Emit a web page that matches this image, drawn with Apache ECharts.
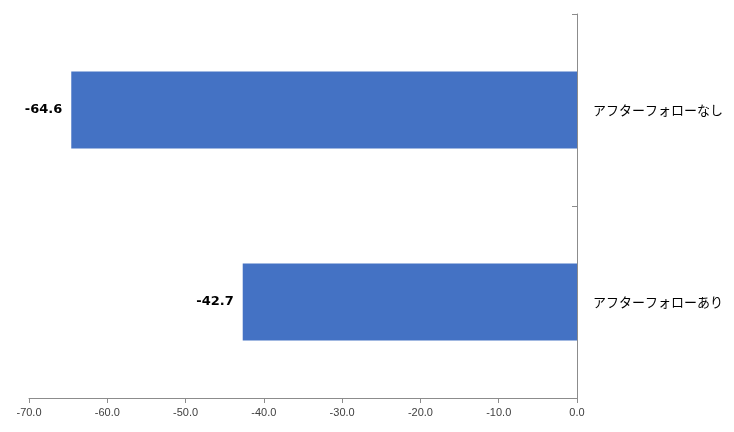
<!DOCTYPE html>
<html><head><meta charset="utf-8">
<script src="https://cdn.jsdelivr.net/npm/echarts@6/dist/echarts.min.js"></script>
<style>html,body{margin:0;padding:0;background:#fff}#c{width:734px;height:432px}</style>
</head><body><div id="c"></div>
<script>
const categories = ['アフターフォローなし', 'アフターフォローあり'];
const values = [-64.6, -42.7];
const xMin = -70, xMax = 0, xStep = 10;

const chart = echarts.init(document.getElementById('c'), null, {renderer: 'canvas'});
chart.setOption({
  animation: false,
  backgroundColor: '#fff',
  grid: {left: 29, right: 157, top: 14, bottom: 34, containLabel: false},
  xAxis: {
    type: 'value', min: xMin, max: xMax, interval: xStep,
    splitLine: {show: false},
    axisLine: {show: true, lineStyle: {color: '#8c8c8c', width: 1}},
    axisTick: {show: true, length: 5, lineStyle: {color: '#8c8c8c'}},
    axisLabel: {
      formatter: v => v.toFixed(1), color: '#404040',
      fontFamily: 'Liberation Sans, Noto Sans, sans-serif', fontSize: 11, margin: 9
    }
  },
  yAxis: {
    type: 'category', data: categories, inverse: true, position: 'right',
    axisLine: {show: true, onZero: false, lineStyle: {color: '#8c8c8c', width: 1}},
    axisTick: {show: true, inside: true, length: 5, lineStyle: {color: '#8c8c8c'}},
    axisLabel: {
      color: '#000', fontFamily: 'Noto Sans CJK JP, sans-serif', fontSize: 13, margin: 16
    }
  },
  series: [{
    type: 'bar', data: values, barCategoryGap: '60%',
    itemStyle: {color: '#4472c4'},
    label: {
      show: true, position: 'left', distance: 9,
      formatter: p => p.value.toFixed(1),
      color: '#000', fontWeight: 'bold', fontSize: 13,
      fontFamily: 'DejaVu Sans, Noto Sans, sans-serif'
    }
  }]
});
</script></body></html>
